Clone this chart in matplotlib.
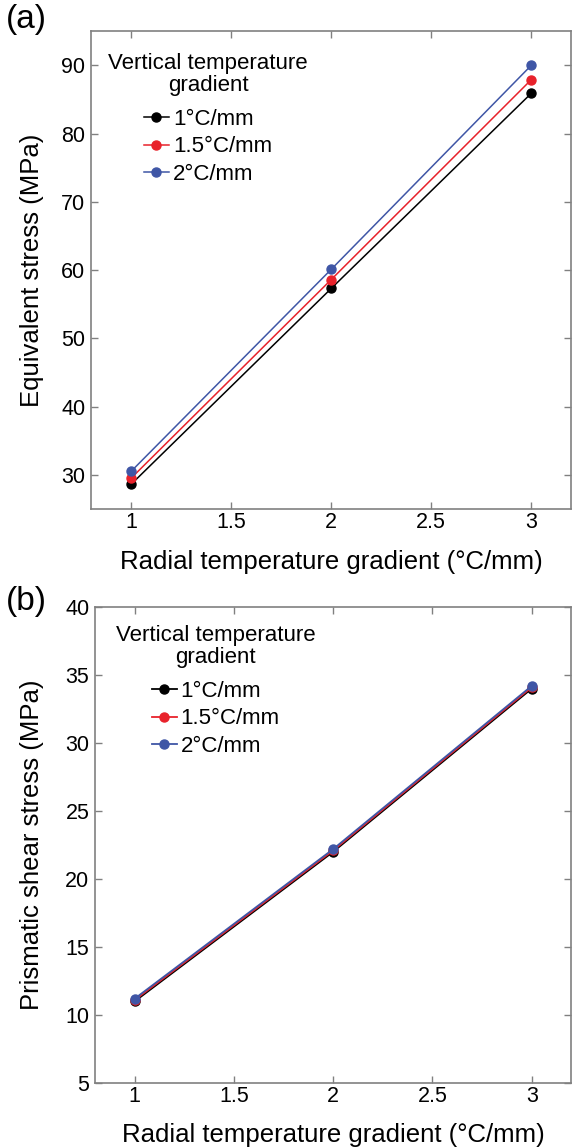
import numpy as np
import matplotlib
matplotlib.use('Agg')
import matplotlib.pyplot as plt
plt.rcParams['font.family'] = ['Liberation Sans', 'DejaVu Sans']

radial = [1, 2, 3]
labels = ['1\u00b0C/mm', '1.5\u00b0C/mm', '2\u00b0C/mm']
colors = ['black', '#e8222b', '#3f56a6']

# equivalent stress (MPa)
eq_1 = [28.6, 57.3, 85.9]
eq_15 = [29.5, 58.6, 87.9]
eq_2 = [30.5, 60.1, 90.0]

# prismatic shear stress (MPa)
ps_1 = [11.0, 22.0, 34.0]
ps_15 = [11.1, 22.1, 34.1]
ps_2 = [11.2, 22.2, 34.2]

fig = plt.figure(figsize=(5.72, 11.47), dpi=100)
ax1 = fig.add_axes([0.159, 0.5562, 0.840, 0.4167])
ax2 = fig.add_axes([0.166, 0.0558, 0.833, 0.415])

def style(ax, ylab, leg_xy, ylab_x, xlab_y):
    for s in ax.spines.values():
        s.set_color('#808080')
        s.set_linewidth(1.2)
    ax.tick_params(direction='in', length=5, width=1, color='#808080',
                   top=True, right=True, labelsize=15.5)
    ax.tick_params(axis='x', pad=2)
    ax.tick_params(axis='y', pad=4)
    ax.set_xticks([1, 1.5, 2, 2.5, 3])
    ax.set_xticklabels(['1', '1.5', '2', '2.5', '3'])
    ax.set_xlim(0.8, 3.2)
    ax.set_xlabel('Radial temperature gradient (\u00b0C/mm)', fontsize=18.5)
    ax.xaxis.set_label_coords(0.5, xlab_y)
    ax.set_ylabel(ylab, fontsize=18.5)
    ax.yaxis.set_label_coords(ylab_x, 0.5)
    leg = ax.legend(title='Vertical temperature\ngradient', frameon=False, loc='upper left',
                    bbox_to_anchor=leg_xy, borderaxespad=0, borderpad=0,
                    fontsize=16, title_fontsize=16,
                    handlelength=1.13, handletextpad=0.18, labelspacing=0.3)
    leg.get_title().set_multialignment('center')
    leg.get_title().set_linespacing(1.1)
    leg._legend_box.sep = 9

for ys, lab, c in zip([eq_1, eq_15, eq_2], labels, colors):
    ax1.plot(radial, ys, '-o', color=c, lw=1.1, ms=6.5, label=lab)
ax1.set_ylim(25, 95)
ax1.set_yticks([30, 40, 50, 60, 70, 80, 90])
style(ax1, 'Equivalent stress (MPa)', (0.036, 0.955), -0.097, -0.086)

for ys, lab, c in zip([ps_1, ps_15, ps_2], labels, colors):
    ax2.plot(radial, ys, '-o', color=c, lw=1.3, ms=6.5, label=lab)
ax2.set_ylim(5, 40)
ax2.set_yticks([5, 10, 15, 20, 25, 30, 35, 40])
style(ax2, 'Prismatic shear stress (MPa)', (0.044, 0.963), -0.106, -0.084)

fig.text(0.01, 0.9965, '(a)', fontsize=24, va='top')
fig.text(0.01, 0.489, '(b)', fontsize=24, va='top')

fig.savefig('out.png', dpi=100)
